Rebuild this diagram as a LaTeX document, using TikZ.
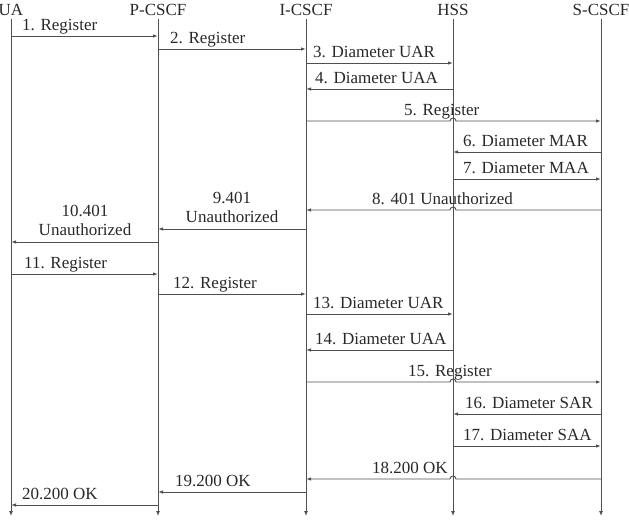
\documentclass[tikz,border=0pt]{standalone}
\usepackage{fontspec}
\setmainfont{Liberation Serif}
\usetikzlibrary{arrows.meta, calc}
\definecolor{lineg}{RGB}{80,80,80}
\definecolor{textg}{RGB}{40,40,40}

\begin{document}
\begin{tikzpicture}[x=1pt,y=-1pt,
  hd/.style={font=\fontsize{17}{19}\selectfont,text=textg,inner sep=0pt},
  lbl/.style={font=\fontsize{17}{19}\selectfont,text=textg,inner sep=0pt,anchor=base west},
  lbl2/.style={font=\fontsize{17}{19}\selectfont,text=textg,inner sep=0pt,anchor=south,align=center},
  life/.style={lineg,line width=0.9pt,-{Latex[length=5pt,width=4pt]}},
  msg/.style={lineg,line width=0.9pt,-{Latex[length=5pt,width=3.5pt]}}]
  \useasboundingbox (0,0) rectangle (629,522);
  % entities
  \node[hd] (ua) at (11,10) {UA};
  \node[hd] (pc) at (158,10) {P-CSCF};
  \node[hd] (ic) at (306,10) {I-CSCF};
  \node[hd] (hs) at (453,10) {HSS};
  \node[hd] (sc) at (601,10) {S-CSCF};
  \foreach \n in {ua,pc,ic,hs,sc}
    \draw[life] ([yshift=-3pt]\n.south) -- (\n |- 0,516);
  % registration, first round
  \draw[msg] (ua |- 0,36) -- (pc |- 0,36);
  \node[lbl] at (22,30) {1. Register};
  \draw[msg] (pc |- 0,49) -- (ic |- 0,49);
  \node[lbl] at (170,43) {2. Register};
  \draw[msg] (ic |- 0,63) -- (hs |- 0,63);
  \node[lbl] at (313,57) {3. Diameter UAR};
  \draw[msg] (hs |- 0,89) -- (ic |- 0,89);
  \node[lbl] at (315,83) {4. Diameter UAA};
  \draw[msg] (ic |- 0,121) -- ($(hs |- 0,121)+(-3,0)$) arc[start angle=180,end angle=360,radius=3] -- (sc |- 0,121);
  \node[lbl] at (404,115) {5. Register};
  \draw[msg] (sc |- 0,152) -- (hs |- 0,152);
  \node[lbl] at (463,146) {6. Diameter MAR};
  \draw[msg] (hs |- 0,179) -- (sc |- 0,179);
  \node[lbl] at (463,173) {7. Diameter MAA};
  \draw[msg] (sc |- 0,210) -- ($(hs |- 0,210)+(3,0)$) arc[start angle=0,end angle=-180,radius=3] -- (ic |- 0,210);
  \node[lbl] at (372,204) {8. 401 Unauthorized};
  \draw[msg] (ic |- 0,229) -- (pc |- 0,229);
  \node[lbl2] at (232,223) {9.401\\Unauthorized};
  \draw[msg] (pc |- 0,242) -- (ua |- 0,242);
  \node[lbl2] at (85,236) {10.401\\Unauthorized};
  % registration, second round
  \draw[msg] (ua |- 0,274) -- (pc |- 0,274);
  \node[lbl] at (24,268) {11. Register};
  \draw[msg] (pc |- 0,294) -- (ic |- 0,294);
  \node[lbl] at (173,288) {12. Register};
  \draw[msg] (ic |- 0,314) -- (hs |- 0,314);
  \node[lbl] at (313,308) {13. Diameter UAR};
  \draw[msg] (hs |- 0,350) -- (ic |- 0,350);
  \node[lbl] at (315,344) {14. Diameter UAA};
  \draw[msg] (ic |- 0,382) -- ($(hs |- 0,382)+(-3,0)$) arc[start angle=180,end angle=360,radius=3] -- (sc |- 0,382);
  \node[lbl] at (408,376) {15. Register};
  \draw[msg] (sc |- 0,414) -- (hs |- 0,414);
  \node[lbl] at (465,408) {16. Diameter SAR};
  \draw[msg] (hs |- 0,446) -- (sc |- 0,446);
  \node[lbl] at (463,440) {17. Diameter SAA};
  \draw[msg] (sc |- 0,479) -- ($(hs |- 0,479)+(3,0)$) arc[start angle=0,end angle=-180,radius=3] -- (ic |- 0,479);
  \node[lbl] at (372,473) {18.200 OK};
  \draw[msg] (ic |- 0,492) -- (pc |- 0,492);
  \node[lbl] at (175,486) {19.200 OK};
  \draw[msg] (pc |- 0,505) -- (ua |- 0,505);
  \node[lbl] at (22,499) {20.200 OK};
\end{tikzpicture}
\end{document}
